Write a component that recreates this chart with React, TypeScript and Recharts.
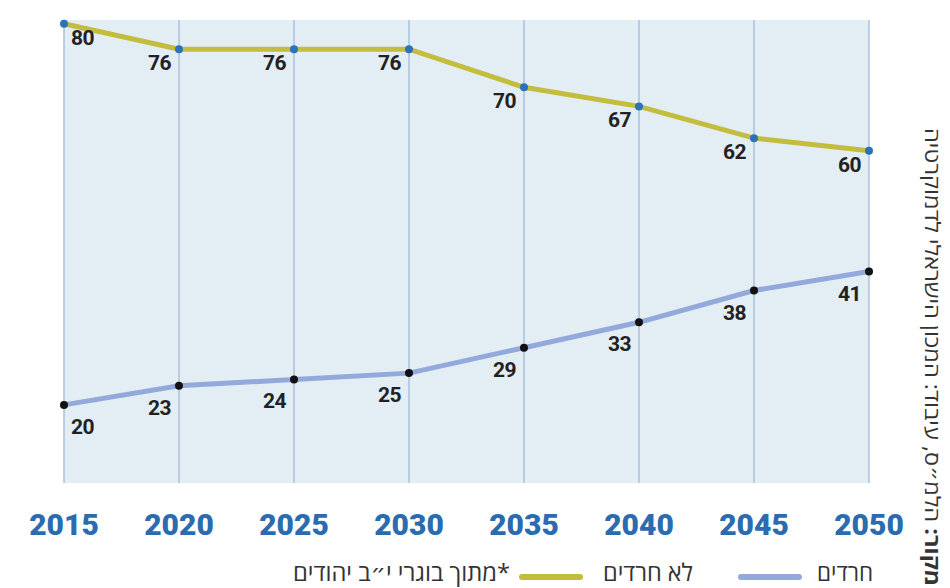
import React from 'react';
import { LineChart, Line, XAxis, YAxis, CartesianGrid, LabelList } from 'recharts';

/* ─────── Data ─────── */
const years = ['2015', '2020', '2025', '2030', '2035', '2040', '2045', '2050'];
const nonHaredi = [80, 76, 76, 76, 70, 67, 62, 60];
const haredi = [20, 23, 24, 25, 29, 33, 38, 41];

const data = years.map((y, i) => ({ year: y, nonHaredi: nonHaredi[i], haredi: haredi[i] }));

const OLIVE = '#c4bc3c';
const LIGHT_BLUE = '#93a9db';
const DOT_BLUE = '#2c72b8';
const YEAR_BLUE = '#2b6cb0';
const HEB_FONT = '"Open Sans", "DejaVu Sans", sans-serif';

/* label below the point: right of it for the first one, left otherwise */
const makeLabel = (dyCenter: number) => (props: any) => {
  const { x, y, value, index } = props;
  const first = index === 0;
  return (
    <text
      x={first ? x + 7 : x - 8}
      y={y + dyCenter + 7}
      textAnchor={first ? 'start' : 'end'}
      fill="#222"
      fontSize={21}
      fontWeight={700}
      fontFamily="Roboto, sans-serif"
      letterSpacing={-0.5}
    >
      {value}
    </text>
  );
};

export default function App() {
  return (
    <div style={{ position: 'relative', width: 950, height: 588, background: '#fff', overflow: 'hidden' }}>
      <style>{`body{margin:0}`}</style>
      <LineChart width={950} height={588} data={data} margin={{ top: 20, right: 81, left: 64, bottom: 75 }}>
        <CartesianGrid horizontal={false} stroke="#a9bfe0" strokeWidth={1.5} fill="#e2edf4" />
        <XAxis
          dataKey="year"
          axisLine={false}
          tickLine={false}
          tickSize={0}
          tickMargin={31}
          interval={0}
          tick={{ fill: YEAR_BLUE, fontSize: 30, fontWeight: 900, fontFamily: 'Roboto, sans-serif' }}
        />
        <YAxis hide domain={[7.7, 80.6]} />
        <Line
          dataKey="nonHaredi" name="לא חרדים" stroke={OLIVE} strokeWidth={5}
          dot={{ r: 4, fill: DOT_BLUE, stroke: 'none' }} isAnimationActive={false}
        >
          <LabelList dataKey="nonHaredi" content={makeLabel(14)} />
        </Line>
        <Line
          dataKey="haredi" name="חרדים" stroke={LIGHT_BLUE} strokeWidth={5}
          dot={{ r: 4, fill: '#111', stroke: 'none' }} isAnimationActive={false}
        >
          <LabelList dataKey="haredi" content={makeLabel(22)} />
        </Line>
      </LineChart>

      {/* legend + source note */}
      <svg width={950} height={588} style={{ position: 'absolute', left: 0, top: 0, pointerEvents: 'none' }}>
        <g fontFamily={HEB_FONT} fontSize={24} fill="#333" direction="rtl" textAnchor="start">
          <text x={873} y={581} textLength={56} lengthAdjust="spacingAndGlyphs">חרדים</text>
          <line x1={741} x2={799} y1={577} y2={577} stroke={LIGHT_BLUE} strokeWidth={6} strokeLinecap="round" />
          <text x={693} y={581} textLength={90} lengthAdjust="spacingAndGlyphs">לא חרדים</text>
          <line x1={522} x2={580} y1={577} y2={577} stroke={OLIVE} strokeWidth={6} strokeLinecap="round" />
          <text x={510} y={581} textLength={217} lengthAdjust="spacingAndGlyphs">*מתוך בוגרי י״ב יהודים</text>
        </g>
        <text
          transform="translate(925,586) rotate(90)"
          x={0}
          y={0}
          direction="rtl"
          textAnchor="start"
          textLength={458}
          lengthAdjust="spacingAndGlyphs"
          fontFamily={HEB_FONT}
          fontSize={21}
          fill="#333"
        >
          <tspan fontWeight={700}>מקור:</tspan> הלמ״ס, עיבוד: המכון הישראלי לדמוקרטיה
        </text>
      </svg>
    </div>
  );
}
